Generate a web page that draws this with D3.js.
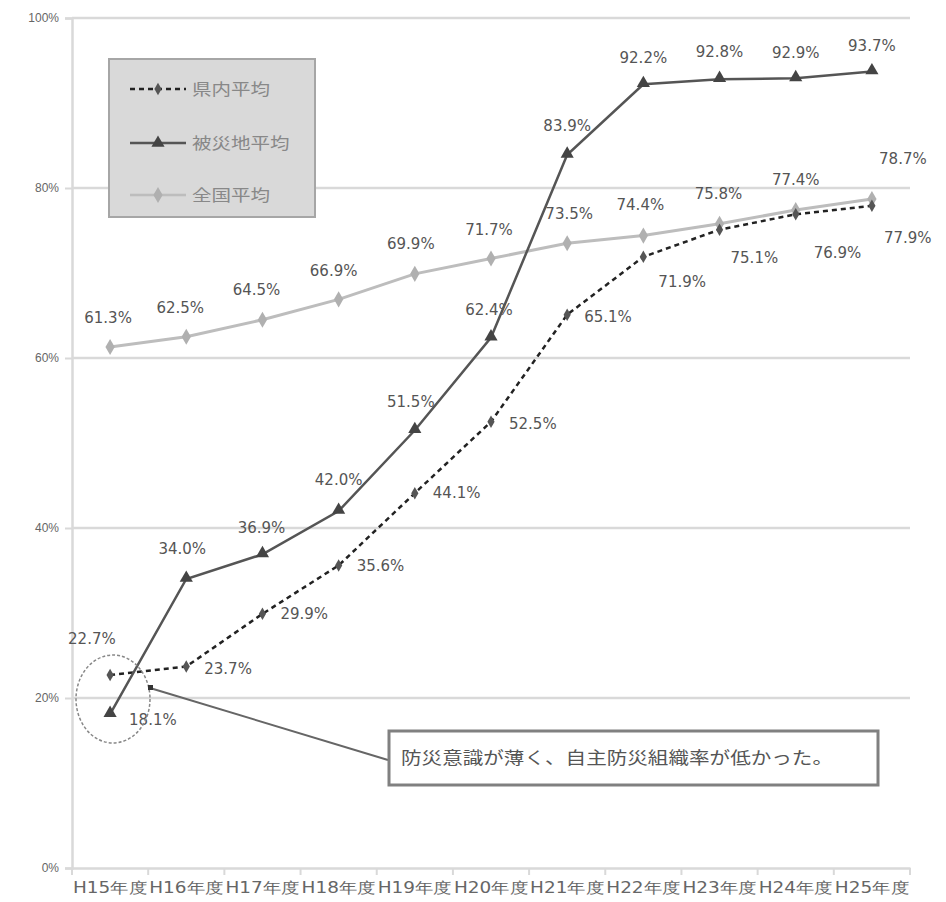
<!DOCTYPE html>
<html><head><meta charset="utf-8">
<script src="https://cdn.jsdelivr.net/npm/d3@7/dist/d3.min.js"></script>
<style>body{margin:0;background:#fff}svg{display:block}</style>
</head><body><svg id="c" width="946" height="902"></svg>
<script>
const categories = ["H15年度","H16年度","H17年度","H18年度","H19年度","H20年度","H21年度","H22年度","H23年度","H24年度","H25年度"];
const kennai = [22.7,23.7,29.9,35.6,44.1,52.5,65.1,71.9,75.1,76.9,77.9];
const hisaichi = [18.1,34.0,36.9,42.0,51.5,62.4,83.9,92.2,92.8,92.9,93.7];
const zenkoku = [61.3,62.5,64.5,66.9,69.9,71.7,73.5,74.4,75.8,77.4,78.7];
const yTicks = [0,20,40,60,80,100];
const seriesNames = ["県内平均","被災地平均","全国平均"];
const noteText = "防災意識が薄く、自主防災組織率が低かった。";

// label placement (layout only)
const kennaiOff = [[-42,-36,"start"],[18,2,"start"],[18,0,"start"],[18,0,"start"],[18,0,"start"],[18,2,"start"],[17,2,"start"],[15,25,"start"],[11,28,"start"],[18,38,"start"],[12,32,"start"]];
const hisaichiOff = [[19,6,"start"],[-4,-30,"middle"],[-1,-27,"middle"],[0,-31,"middle"],[-4,-29,"middle"],[-2,-28,"middle"],[0,-29,"middle"],[0,-27,"middle"],[0,-27,"middle"],[0,-26,"middle"],[0,-26,"middle"]];
const zenkokuOff = [[-2,-29,"middle"],[-6,-29,"middle"],[-6,-30,"middle"],[-5,-29,"middle"],[-4,-30,"middle"],[-2,-29,"middle"],[2,-30,"middle"],[-3,-31,"middle"],[-1,-30,"middle"],[0,-30,"middle"],[31,-40,"middle"]];

const svg = d3.select("#c");
const L = 72, R = 910, T = 18, B = 868;
const x = d3.scaleBand().domain(categories).range([L, R]);
const y = d3.scaleLinear().domain([0, 100]).range([B, T]);
const cx = d => x(d) + x.bandwidth() / 2;
const font = "'DejaVu Sans', sans-serif";

// grid
svg.append("g").selectAll("line").data(yTicks.filter(d => d > 0)).join("line")
  .attr("x1", L).attr("x2", R).attr("y1", d => y(d)).attr("y2", d => y(d))
  .attr("stroke", "#d9d9d9").attr("stroke-width", 2.5);

// y axis
const yAxis = svg.append("g").attr("transform", `translate(${L},0)`)
  .call(d3.axisLeft(y).tickValues(yTicks).tickFormat(d => d + "%").tickSize(7).tickPadding(6));
yAxis.select(".domain").attr("stroke", "#d9d9d9").attr("stroke-width", 2.5);
yAxis.selectAll(".tick line").attr("stroke", "#d9d9d9").attr("stroke-width", 2);
yAxis.selectAll("text").attr("font-family", "'Liberation Sans', sans-serif").attr("font-size", 12).attr("fill", "#666");

// x axis
const xAxis = svg.append("g").attr("transform", `translate(0,${B})`)
  .call(d3.axisBottom(x).tickSize(0).tickPadding(14));
xAxis.select(".domain").attr("stroke", "#d9d9d9").attr("stroke-width", 2.5);
xAxis.selectAll("text").attr("font-family", font).attr("font-size", 15).attr("fill", "#666")
  .attr("textLength", x.bandwidth() - 2).attr("lengthAdjust", "spacingAndGlyphs");
svg.append("g").selectAll("line").data(d3.range(categories.length + 1)).join("line")
  .attr("x1", i => L + i * x.bandwidth()).attr("x2", i => L + i * x.bandwidth())
  .attr("y1", B).attr("y2", B + 7).attr("stroke", "#d9d9d9").attr("stroke-width", 2);

const line = d3.line().x((d, i) => cx(categories[i])).y(d => y(d));

// 全国平均
svg.append("path").datum(zenkoku).attr("d", line).attr("fill", "none")
  .attr("stroke", "#bdbdbd").attr("stroke-width", 3);
svg.append("g").selectAll("path").data(zenkoku).join("path")
  .attr("d", d3.symbol(d3.symbolDiamond, 75))
  .attr("transform", (d, i) => `translate(${cx(categories[i])},${y(d)})`)
  .attr("fill", "#b0b0b0");

// 県内平均
svg.append("path").datum(kennai).attr("d", line).attr("fill", "none")
  .attr("stroke", "#222").attr("stroke-width", 2.5).attr("stroke-dasharray", "5,4");
svg.append("g").selectAll("path").data(kennai).join("path")
  .attr("d", d3.symbol(d3.symbolDiamond, 45))
  .attr("transform", (d, i) => `translate(${cx(categories[i])},${y(d)})`)
  .attr("fill", "#555");

// 被災地平均
svg.append("path").datum(hisaichi).attr("d", line).attr("fill", "none")
  .attr("stroke", "#555").attr("stroke-width", 2.5);
svg.append("g").selectAll("path").data(hisaichi).join("path")
  .attr("d", d3.symbol(d3.symbolTriangle, 75))
  .attr("transform", (d, i) => `translate(${cx(categories[i])},${y(d) - 1})`)
  .attr("fill", "#444");

// data labels
function labels(data, off) {
  svg.append("g").selectAll("text").data(data).join("text")
    .attr("x", (d, i) => cx(categories[i]) + off[i][0])
    .attr("y", (d, i) => y(d) + off[i][1])
    .attr("dy", "0.35em").attr("text-anchor", (d, i) => off[i][2])
    .attr("font-family", font).attr("font-size", 15).attr("fill", "#555")
    .text(d => d.toFixed(1) + "%");
}
labels(zenkoku, zenkokuOff);
labels(kennai, kennaiOff);
labels(hisaichi, hisaichiOff);

// legend
const lg = svg.append("g");
lg.append("rect").attr("x", 109).attr("y", 59).attr("width", 206).attr("height", 158)
  .attr("fill", "#d9d9d9").attr("stroke", "#a6a6a6").attr("stroke-width", 2);
const legendRows = [
  {name: seriesNames[0], stroke: "#222", dash: "5,4", sym: d3.symbolDiamond, size: 45, fill: "#555"},
  {name: seriesNames[1], stroke: "#555", dash: null, sym: d3.symbolTriangle, size: 75, fill: "#444"},
  {name: seriesNames[2], stroke: "#bdbdbd", dash: null, sym: d3.symbolDiamond, size: 75, fill: "#b0b0b0"}
];
const rowY = [89, 143, 195];
legendRows.forEach((r, i) => {
  lg.append("line").attr("x1", 130).attr("x2", 186).attr("y1", rowY[i]).attr("y2", rowY[i])
    .attr("stroke", r.stroke).attr("stroke-width", 2.5).attr("stroke-dasharray", r.dash);
  lg.append("path").attr("d", d3.symbol(r.sym, r.size)).attr("transform", `translate(158,${rowY[i]})`).attr("fill", r.fill);
  lg.append("text").attr("x", 192).attr("y", rowY[i]).attr("dy", "0.36em")
    .attr("font-family", "'Noto Sans CJK JP', sans-serif").attr("font-size", 16).attr("fill", "#888")
    .attr("textLength", r.name.length * 19.5).attr("lengthAdjust", "spacingAndGlyphs")
    .text(r.name);
});

// annotation
svg.append("ellipse").attr("cx", 113).attr("cy", 699).attr("rx", 37).attr("ry", 44)
  .attr("fill", "none").attr("stroke", "#888").attr("stroke-width", 1.5).attr("stroke-dasharray", "3,2");
svg.append("line").attr("x1", 150).attr("y1", 688).attr("x2", 388).attr("y2", 760)
  .attr("stroke", "#666").attr("stroke-width", 2);
svg.append("rect").attr("x", 148).attr("y", 685).attr("width", 5).attr("height", 5).attr("fill", "#333");
svg.append("rect").attr("x", 389).attr("y", 731).attr("width", 489).attr("height", 54)
  .attr("fill", "#fff").attr("stroke", "#808080").attr("stroke-width", 3);
svg.append("text").attr("x", 401).attr("y", 758).attr("dy", "0.36em")
  .attr("font-family", "'Noto Sans CJK JP', sans-serif").attr("font-size", 17).attr("fill", "#555")
  .attr("textLength", 432).attr("lengthAdjust", "spacingAndGlyphs")
  .text(noteText);
</script></body></html>
